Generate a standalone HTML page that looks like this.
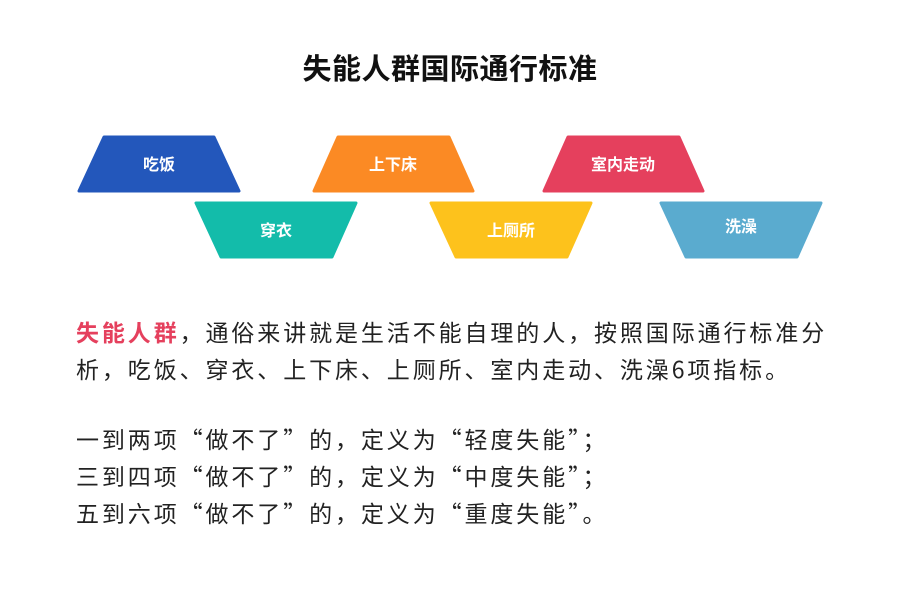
<!DOCTYPE html><html><head><meta charset="utf-8"><style>
body{margin:0;width:900px;height:600px;background:#fff;font-family:"Liberation Sans","Noto Sans CJK SC",sans-serif;position:relative;overflow:hidden}
h1{position:absolute;top:50px;left:0;width:900px;text-align:center;margin:0;font-size:29px;font-weight:bold;color:#111;line-height:40px;letter-spacing:0.5px}
svg{position:absolute;left:0;top:0}
.t{position:absolute;left:76px;font-family:"Noto Sans CJK SC",sans-serif;font-size:23px;letter-spacing:2.9px;color:#222;line-height:37px;white-space:nowrap}
</style></head><body>
<h1>失能人群国际通行标准</h1>
<svg width="900" height="300" font-family="Liberation Sans,Noto Sans CJK SC,sans-serif" font-weight="bold" font-size="16" fill="#fff" text-anchor="middle">
<g stroke-linejoin="round" stroke-width="3">
<polygon points="104,137 214,137 239,191 79,191" fill="#2357bb" stroke="#2357bb"/>
<polygon points="338,137 449,137 473,191 314,191" fill="#fb8a24" stroke="#fb8a24"/>
<polygon points="568,137 679,137 703,191 544,191" fill="#e5405d" stroke="#e5405d"/>
<polygon points="196,203 356,203 332,257 221,257" fill="#13bcaa" stroke="#13bcaa"/>
<polygon points="431,203 591,203 567,257 456,257" fill="#fdc21c" stroke="#fdc21c"/>
<polygon points="661,203 821,203 797,257 686,257" fill="#5aabcf" stroke="#5aabcf"/>
</g>
<text x="159" y="170">吃饭</text><text x="393" y="170">上下床</text><text x="623" y="170">室内走动</text>
<text x="276" y="236">穿衣</text><text x="511" y="236">上厕所</text><text x="741" y="232">洗澡</text>
</svg>
<div class="t" style="top:313px"><b style="color:#e5405d">失能人群</b>，通俗来讲就是生活不能自理的人，按照国际通行标准分<br>析，吃饭、穿衣、上下床、上厕所、室内走动、洗澡6项指标。</div>
<div class="t" style="top:420px">一到两项“做不了”的，定义为“轻度失能”；<br>三到四项“做不了”的，定义为“中度失能”；<br>五到六项“做不了”的，定义为“重度失能”。</div>
</body></html>
